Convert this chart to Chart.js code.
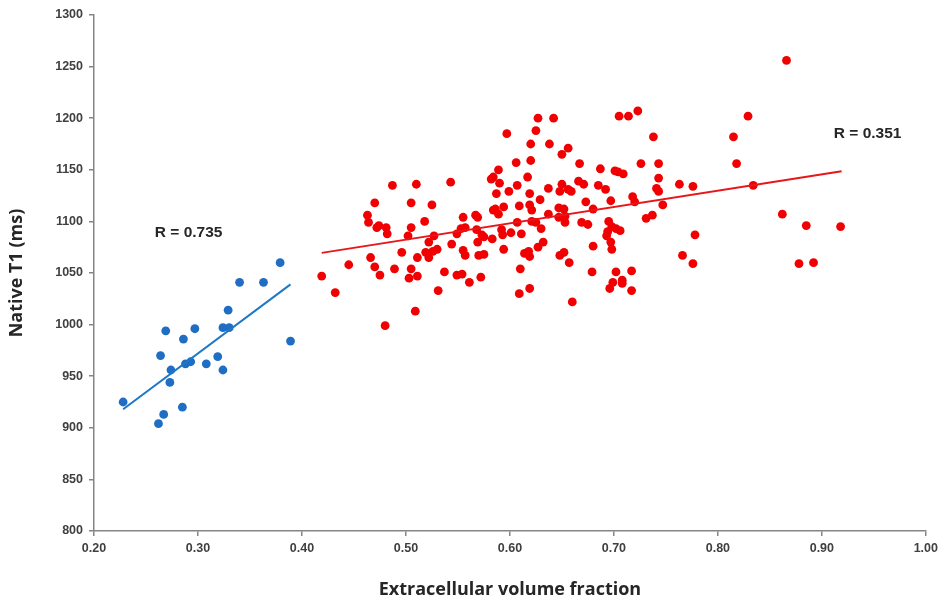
<!DOCTYPE html>
<html>
<head>
<meta charset="utf-8">
<script src="https://cdn.jsdelivr.net/npm/chart.js@4.4.1/dist/chart.umd.min.js"></script>
<style>
  html, body { margin: 0; padding: 0; background: #fff; }
</style>
</head>
<body>
<canvas id="ecvChart" width="943" height="604"></canvas>
<script>
// blue group (low ECV)
const blueEcv = [0.228, 0.262, 0.267, 0.285, 0.273, 0.274, 0.264, 0.269, 0.286, 0.297, 0.288,
                 0.293, 0.308, 0.319, 0.324, 0.324, 0.330, 0.329, 0.340, 0.363, 0.379, 0.389];
const blueT1 = [925, 904, 913, 920, 944, 956, 970, 994, 986, 996, 962,
                964, 962, 969, 956, 997, 997, 1014, 1041, 1041, 1060, 984];

// red group (high ECV)
const redEcv = [
  0.419, 0.432, 0.445, 0.466, 0.470, 0.475, 0.489, 0.496, 0.505, 0.503, 0.509, 0.480, 0.463,
  0.464, 0.472, 0.474, 0.481, 0.482, 0.470, 0.487, 0.505, 0.510, 0.505, 0.502, 0.511, 0.511,
  0.543, 0.525, 0.518, 0.527, 0.522, 0.519, 0.522, 0.526, 0.530, 0.531, 0.537, 0.544, 0.549,
  0.554, 0.561, 0.572, 0.555, 0.549, 0.553, 0.557, 0.555, 0.557, 0.567, 0.569, 0.568, 0.569,
  0.573, 0.575, 0.570, 0.575, 0.583, 0.592, 0.593, 0.601, 0.594, 0.589, 0.584, 0.582, 0.590,
  0.587, 0.599, 0.586, 0.584, 0.589, 0.594, 0.606, 0.597,
  0.627, 0.642, 0.625, 0.620, 0.638, 0.656, 0.650, 0.620, 0.667, 0.687, 0.617, 0.607, 0.619,
  0.637, 0.650, 0.648, 0.656, 0.659, 0.666, 0.671, 0.685, 0.692, 0.629, 0.609, 0.619, 0.621,
  0.673, 0.680, 0.647, 0.652, 0.637, 0.647, 0.653, 0.653, 0.607, 0.621, 0.625, 0.669, 0.675,
  0.630, 0.611, 0.632, 0.627, 0.680, 0.614, 0.618, 0.619, 0.648, 0.652, 0.657, 0.610, 0.679,
  0.609, 0.619, 0.660,
  0.705, 0.714, 0.723, 0.738, 0.701, 0.704, 0.709, 0.726, 0.743, 0.743, 0.741, 0.743, 0.763,
  0.776, 0.697, 0.718, 0.720, 0.747, 0.731, 0.737, 0.695, 0.698, 0.702, 0.706, 0.694, 0.693,
  0.697, 0.698, 0.766, 0.776, 0.702, 0.717, 0.699, 0.708, 0.708, 0.696, 0.717,
  0.778, 0.815, 0.818, 0.829, 0.834, 0.862, 0.885, 0.918, 0.878, 0.892, 0.866
];
const redT1 = [
  1047, 1031, 1058, 1065, 1056, 1048, 1054, 1070, 1054, 1045, 1013, 999, 1106,
  1099, 1094, 1096, 1094, 1088, 1118, 1135, 1118, 1136, 1094, 1086, 1065, 1047,
  1138, 1116, 1100, 1086, 1080, 1070, 1065, 1071, 1073, 1033, 1051, 1078, 1048,
  1049, 1041, 1046, 1104, 1088, 1093, 1094, 1072, 1067, 1106, 1104, 1092, 1080,
  1087, 1085, 1067, 1068, 1083, 1092, 1087, 1089, 1073, 1150, 1143, 1141, 1137,
  1127, 1129, 1112, 1111, 1107, 1114, 1157, 1185,
  1200, 1200, 1188, 1175, 1175, 1171, 1165, 1159, 1156, 1151, 1143, 1135, 1127,
  1132, 1136, 1129, 1131, 1129, 1139, 1136, 1135, 1131, 1121, 1115, 1116, 1111,
  1119, 1112, 1113, 1112, 1107, 1104, 1105, 1099, 1099, 1100, 1099, 1099, 1097,
  1093, 1088, 1080, 1075, 1076, 1069, 1071, 1066, 1067, 1070, 1060, 1054, 1051,
  1030, 1035, 1022,
  1202, 1202, 1207, 1182, 1149, 1148, 1146, 1156, 1156, 1142, 1132, 1129, 1136,
  1134, 1120, 1124, 1119, 1116, 1103, 1106, 1100, 1095, 1093, 1091, 1090, 1086,
  1080, 1073, 1067, 1059, 1051, 1052, 1041, 1043, 1040, 1035, 1033,
  1087, 1182, 1156, 1202, 1135, 1107, 1096, 1095, 1059, 1060, 1256
];

// regression line end points
const blueFitEcv = [0.228, 0.389];
const blueFitT1 = [918, 1039];
const redFitEcv = [0.419, 0.919];
const redFitT1 = [1069.5, 1148.5];

// correlation labels, anchored in data units
const rLabels = [
  { text: 'R = 0.735', x: 0.291, y: 1089 },
  { text: 'R = 0.351', x: 0.944, y: 1185 }
];

const toPoints = (xs, ys) => xs.map((x, i) => ({ x, y: ys[i] }));

const axisColor = '#858585';
const tickFont = { family: 'Liberation Sans, Arial, sans-serif', size: 12.5, weight: 'bold' };
const titleFont = { family: 'Open Sans, sans-serif', size: 18, weight: 'bold' };

const rLabelPlugin = {
  id: 'rLabels',
  afterDatasetsDraw(chart) {
    const { ctx, scales } = chart;
    ctx.save();
    ctx.font = 'bold 15.5px "Liberation Sans", Arial, sans-serif';
    ctx.fillStyle = '#262626';
    ctx.textAlign = 'center';
    ctx.textBaseline = 'middle';
    rLabels.forEach(l => {
      ctx.fillText(l.text, scales.x.getPixelForValue(l.x), scales.y.getPixelForValue(l.y));
    });
    ctx.restore();
  }
};

const ctx = document.getElementById('ecvChart').getContext('2d');
const ecvChart = new Chart(ctx, {
  type: 'scatter',
  data: {
    datasets: [{
      label: 'fit low',
      type: 'line',
      data: toPoints(blueFitEcv, blueFitT1),
      borderColor: '#1f78c4',
      borderWidth: 2,
      pointRadius: 0,
      fill: false
    }, {
      label: 'fit high',
      type: 'line',
      data: toPoints(redFitEcv, redFitT1),
      borderColor: '#e8151b',
      borderWidth: 2,
      pointRadius: 0,
      fill: false
    }, {
      label: 'low ECV',
      data: toPoints(blueEcv, blueT1),
      backgroundColor: '#1f6ec4',
      borderColor: '#1f6ec4',
      pointRadius: 4.4,
      borderWidth: 0
    }, {
      label: 'high ECV',
      data: toPoints(redEcv, redT1),
      backgroundColor: '#f00000',
      borderColor: '#f00000',
      pointRadius: 4.4,
      borderWidth: 0
    }]
  },
  options: {
    responsive: false,
    animation: false,
    layout: { padding: { left: 0, top: 15, right: 15, bottom: 0 } },
    plugins: {
      legend: { display: false },
      tooltip: { enabled: false }
    },
    scales: {
      x: {
        type: 'linear',
        min: 0.2,
        max: 1.0,
        afterFit: s => { s.height = 73; },
        border: { color: axisColor, width: 1.5 },
        grid: { drawOnChartArea: false, drawTicks: true, tickLength: 5, color: axisColor, lineWidth: 1.5 },
        ticks: {
          stepSize: 0.1,
          padding: 5,
          color: '#404040',
          font: tickFont,
          callback: v => v.toFixed(2)
        },
        title: {
          display: true,
          text: 'Extracellular volume fraction',
          color: '#262626',
          font: titleFont,
          padding: { top: 0, bottom: 3 }
        }
      },
      y: {
        min: 800,
        max: 1300,
        afterFit: s => { s.width = 94; },
        border: { color: axisColor, width: 1.5 },
        grid: { drawOnChartArea: false, drawTicks: true, tickLength: 5, color: axisColor, lineWidth: 1.5 },
        ticks: {
          stepSize: 50,
          padding: 6,
          color: '#404040',
          font: tickFont,
          callback: v => String(v)
        },
        title: {
          display: true,
          text: 'Native T1 (ms)',
          color: '#262626',
          font: titleFont,
          padding: { top: 6, bottom: 0 }
        }
      }
    }
  },
  plugins: [rLabelPlugin]
});
</script>
</body>
</html>
